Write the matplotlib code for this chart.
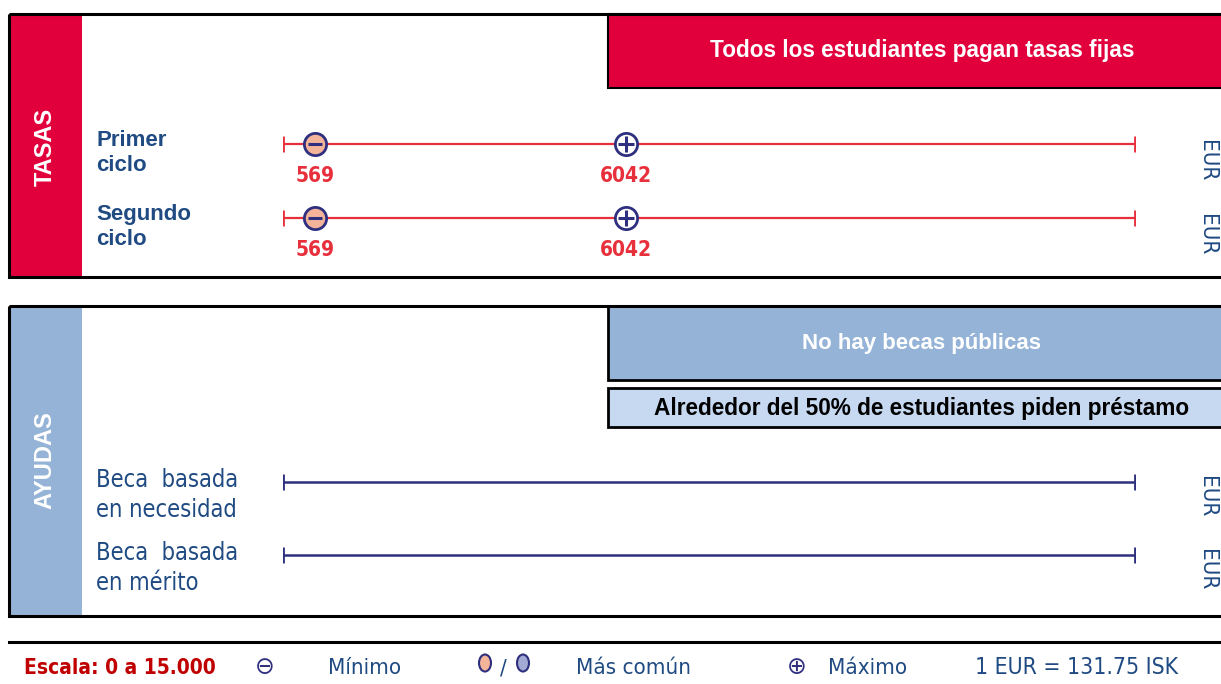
import matplotlib
matplotlib.use('Agg')
import matplotlib.pyplot as plt
from matplotlib import font_manager
from matplotlib.font_manager import FontProperties
from matplotlib.patches import Rectangle, Ellipse

# data
scale_max = 15000
tasas_rows = ['Primer\nciclo', 'Segundo\nciclo']
tasas_min = [569, 569]
tasas_max = [6042, 6042]
ayudas_rows = ['Beca  basada\nen necesidad', 'Beca  basada\nen mérito']
tasas_note = 'Todos los estudiantes pagan tasas fijas'
ayudas_note1 = 'No hay becas públicas'
ayudas_note2 = 'Alrededor del 50% de estudiantes piden préstamo'
unit = 'EUR'
footer = ['Escala: 0 a 15.000', 'Mínimo', 'Más común', 'Máximo', '1 EUR = 131.75 ISK']

RED = '#E2003C'
BLUE = '#95B3D7'
LIGHT = '#C6D9F1'
NAVY = '#1F4A82'
DARK = '#2E2F7F'
LINE_RED = '#E8303C'
SALMON = '#F4B49A'
BOLD = ['Liberation Sans', 'DejaVu Sans']


def narrow_font(bold):
    # look for any condensed / narrow face installed
    for f in font_manager.fontManager.ttflist:
        is_narrow = ('Narrow' in f.name or 'Condensed' in f.name
                     or f.stretch in ('condensed', 'semi-condensed', 'extra-condensed'))
        w = f.weight if isinstance(f.weight, int) else (700 if f.weight == 'bold' else 400)
        if is_narrow and f.style == 'normal' and ((w >= 600) == bold):
            return f.fname
    return None


nr_path = narrow_font(False)
nb_path = narrow_font(True)


def nfp(size, bold=False):
    path = nb_path if bold else nr_path
    if path:
        return FontProperties(fname=path, size=size)
    return FontProperties(family='Liberation Sans', size=size * 0.85,
                          weight='bold' if bold else 'normal', stretch='condensed')


W, H = 1221, 684
fig = plt.figure(figsize=(W / 100, H / 100), dpi=100)
fig.patch.set_facecolor('white')

# background axes in pixel units
bg = fig.add_axes([0, 0, 1, 1])
bg.set_xlim(0, W)
bg.set_ylim(H, 0)
bg.axis('off')

# data axes: x in EUR, y in pixel rows
x0, x1 = 283, 1135
ax = fig.add_axes([x0 / W, 0, (x1 - x0) / W, 1])
ax.set_xlim(0, scale_max)
ax.set_ylim(H, 0)
ax.axis('off')
ax.patch.set_alpha(0)

# --- TASAS panel ---
bg.add_patch(Rectangle((9, 14), 1240, 263, facecolor='white', edgecolor='none', zorder=1))
bg.add_patch(Rectangle((9, 14), 73, 263, facecolor=RED, edgecolor='none', zorder=2))
bg.add_patch(Rectangle((9, 14), 1240, 263, facecolor='none', edgecolor='black', lw=2.2, zorder=3))
bg.text(45, 147, 'TASAS', rotation=90, color='white', fontsize=17, fontweight='bold',
        family=BOLD, ha='center', va='center', zorder=4)
bg.add_patch(Rectangle((608, 14), 640, 74, facecolor=RED, edgecolor='black', lw=1.5, zorder=2))
bg.text(922, 51, tasas_note, color='white', fontsize=16.3, fontweight='bold', family=BOLD,
        ha='center', va='center', zorder=4)

tasas_y = [144, 218]
for i, y in enumerate(tasas_y):
    bg.text(96, y + 9, tasas_rows[i], color=NAVY, fontsize=16, fontweight='bold', family=BOLD,
            ha='left', va='center', linespacing=1.2, zorder=4)
    ax.plot([0, scale_max], [y, y], color=LINE_RED, lw=1.6, zorder=3)
    ax.plot([0, scale_max], [y, y], ls='none', marker='|', ms=11, mew=2, color=LINE_RED, zorder=3)
    ax.plot(tasas_min[i], y, 'o', ms=16, mfc=SALMON, mec=DARK, mew=2, zorder=5)
    ax.plot(tasas_min[i], y, '_', ms=10, mew=2.2, color=DARK, zorder=6)
    ax.plot(tasas_max[i], y, 'o', ms=16, mfc='white', mec=DARK, mew=2, zorder=5)
    ax.plot(tasas_max[i], y, '+', ms=11, mew=2.2, color=DARK, zorder=6)
    ax.text(tasas_min[i], y + 32, str(tasas_min[i]), color=LINE_RED, fontproperties=nfp(15, True),
            ha='center', va='center', zorder=6)
    ax.text(tasas_max[i], y + 32, str(tasas_max[i]), color=LINE_RED, fontproperties=nfp(15, True),
            ha='center', va='center', zorder=6)
    bg.text(1207, y + 17, unit, rotation=-90, color=NAVY, fontproperties=nfp(16),
            ha='center', va='center', zorder=4)

# --- AYUDAS panel ---
bg.add_patch(Rectangle((9, 306), 1240, 310, facecolor='white', edgecolor='none', zorder=1))
bg.add_patch(Rectangle((9, 306), 73, 310, facecolor=BLUE, edgecolor='none', zorder=2))
bg.add_patch(Rectangle((9, 306), 1240, 310, facecolor='none', edgecolor='black', lw=2.2, zorder=3))
bg.text(45, 460, 'AYUDAS', rotation=90, color='white', fontsize=17, fontweight='bold',
        family=BOLD, ha='center', va='center', zorder=4)
bg.add_patch(Rectangle((608, 306), 640, 74, facecolor=BLUE, edgecolor='black', lw=2, zorder=2))
bg.text(922, 343, ayudas_note1, color='white', fontsize=16, fontweight='bold', family=BOLD,
        ha='center', va='center', zorder=4)
bg.add_patch(Rectangle((608, 388), 640, 39, facecolor=LIGHT, edgecolor='black', lw=2, zorder=2))
bg.text(922, 408, ayudas_note2, color='black', fontsize=16.3, fontweight='bold', family=BOLD,
        ha='center', va='center', zorder=4)

ayudas_y = [482, 555]
for i, y in enumerate(ayudas_y):
    bg.text(96, y + 13, ayudas_rows[i], color=NAVY, fontproperties=nfp(17),
            ha='left', va='center', linespacing=1.3, zorder=4)
    ax.plot([0, scale_max], [y, y], color=DARK, lw=1.8, zorder=3)
    ax.plot([0, scale_max], [y, y], ls='none', marker='|', ms=11, mew=2, color=DARK, zorder=3)
    bg.text(1207, y + 15, unit, rotation=-90, color=NAVY, fontproperties=nfp(16),
            ha='center', va='center', zorder=4)

# --- footer ---
bg.plot([9, W], [642, 642], color='black', lw=2.2)
fy = 668
bg.text(24, fy, footer[0], color='#C00000', fontproperties=nfp(15, True), ha='left', va='center')
bg.text(265, fy - 1, '⊖', color=DARK, fontsize=17, family=['DejaVu Sans'], ha='center', va='center')
bg.text(328, fy, footer[1], color=NAVY, fontproperties=nfp(16), ha='left', va='center')
bg.add_patch(Ellipse((485, fy - 5), 12, 17, facecolor=SALMON, edgecolor=DARK, lw=1.5))
bg.text(503, fy, '/', color=NAVY, fontproperties=nfp(16), ha='center', va='center')
bg.add_patch(Ellipse((523, fy - 5), 12, 17, facecolor='#A3AAD3', edgecolor=DARK, lw=1.5))
bg.text(576, fy, footer[2], color=NAVY, fontproperties=nfp(16), ha='left', va='center')
bg.text(797, fy - 1, '⊕', color=DARK, fontsize=17, family=['DejaVu Sans'], ha='center', va='center')
bg.text(828, fy, footer[3], color=NAVY, fontproperties=nfp(16), ha='left', va='center')
bg.text(975, fy, footer[4], color=NAVY, fontproperties=nfp(16.5), ha='left', va='center')

fig.savefig('out.png', dpi=100)
